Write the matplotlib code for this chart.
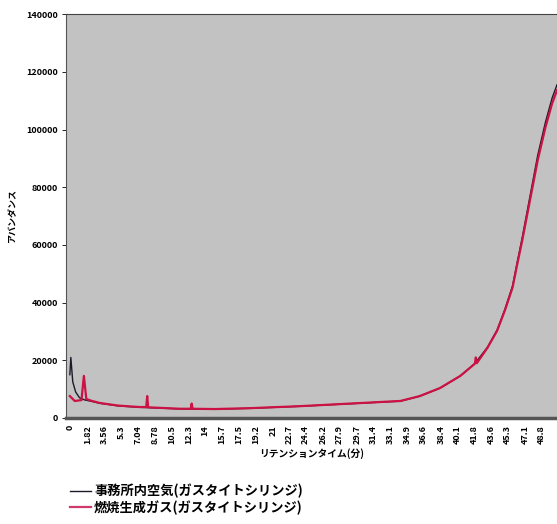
import matplotlib
matplotlib.use("Agg")
import matplotlib.pyplot as plt
import numpy as np

plt.rcParams['font.family'] = ['Noto Sans CJK JP', 'DejaVu Sans']

# retention time (min) and abundance
t_air = [0.0, 0.1, 0.3, 0.6, 1.0, 1.5, 2.2, 3.1, 5.0, 7.2, 11.4, 15, 18.6, 23.8,
         29, 34.2, 36.2, 38.3, 40.4, 41.9, 43.2, 44.2, 45.0, 45.8, 46.3, 46.8,
         47.6, 48.4, 49.2, 49.9, 50.4]
v_air = [15000, 21000, 12500, 9000, 7000, 6300, 5800, 5100, 4200, 3700, 3150,
         3050, 3350, 4050, 4950, 5850, 7550, 10350, 14600, 18900, 24500, 30500,
         37600, 45800, 54300, 62500, 76800, 91000, 102500, 111000, 115500]

t_gas = [0.0, 0.5, 1.2, 1.45, 1.7, 2.2, 3.1, 5.0, 7.2, 7.9, 8.0, 8.1, 11.4, 12.5,
         12.6, 12.7, 15, 18.6, 23.8, 29, 34.2, 36.2, 38.3, 40.4, 41.9, 42.0, 42.1,
         43.2, 44.2, 45.0, 45.8, 46.3, 46.8, 47.6, 48.4, 49.2, 49.9, 50.4]
v_gas = [7600, 5900, 6200, 14600, 6600, 6000, 5200, 4300, 3800, 3800, 7600, 3700,
         3200, 3200, 5000, 3200, 3100, 3400, 4100, 5000, 5900, 7600, 10400, 14600,
         18800, 21000, 19000, 24300, 30200, 37200, 45200, 53500, 61500, 75400,
         89300, 100700, 109100, 113600]

xtick_labels = ["0", "1.82", "3.56", "5.3", "7.04", "8.78", "10.5", "12.3", "14",
                "15.7", "17.5", "19.2", "21", "22.7", "24.4", "26.2", "27.9",
                "29.7", "31.4", "33.1", "34.9", "36.6", "38.4", "40.1", "41.8",
                "43.6", "45.3", "47.1", "48.8"]
yticks = [0, 20000, 40000, 60000, 80000, 100000, 120000, 140000]

name_air = "事務所内空気(ガスタイトシリンジ)"
name_gas = "燃焼生成ガス(ガスタイトシリンジ)"

fig = plt.figure(figsize=(5.57, 5.24), dpi=100)
ax = fig.add_axes([0.1185, 0.2023, 0.8815, 0.7707])
ax.set_facecolor("#c2c2c2")

ax.plot(t_air, v_air, color="#1a1a2a", lw=1.0, label=name_air)
ax.plot(t_gas, v_gas, color="#cc1144", lw=1.6, label=name_gas)

ax.set_xlim(-0.4, 50.4)
ax.set_ylim(0, 140000)
ax.set_yticks(yticks)
ax.set_yticklabels([str(v) for v in yticks], fontsize=6.5, fontweight="bold")
ax.set_xticks([float(s) for s in xtick_labels])
ax.set_xticklabels(xtick_labels, rotation=90, fontsize=6.5, fontweight="bold")
ax.tick_params(axis="y", length=3, width=0.6, pad=3)
ax.tick_params(axis="x", length=0, pad=5)

ax.set_ylabel("アバンダンス", fontsize=6.5, fontweight="bold", labelpad=6)
ax.set_xlabel("リテンションタイム(分)", fontsize=7, fontweight="bold", labelpad=3)

ax.spines["right"].set_visible(False)
ax.spines["top"].set_color("#444444")
ax.spines["top"].set_linewidth(0.8)
ax.spines["left"].set_color("#555555")
ax.spines["bottom"].set_color("#555555")
ax.spines["bottom"].set_linewidth(2.5)

leg = fig.legend(loc="lower left", bbox_to_anchor=(0.105, -0.005), frameon=False,
                 handlelength=1.6, handletextpad=0.2, labelspacing=0.15,
                 prop={"size": 9.5, "weight": "bold",
                       "family": ["Noto Sans CJK JP", "DejaVu Sans"]})
leg.get_lines()[1].set_color("#d03a6a")

fig.savefig("out.png", dpi=100)
